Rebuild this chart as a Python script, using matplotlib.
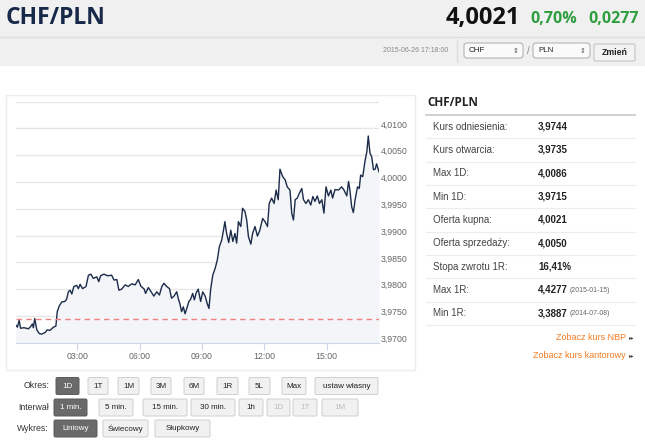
import numpy as np
import matplotlib
matplotlib.use("Agg")
import matplotlib.pyplot as plt
from matplotlib.patches import FancyBboxPatch, Rectangle
from matplotlib.transforms import ScaledTranslation

plt.rcParams['font.family'] = ['Liberation Sans', 'DejaVu Sans']

# --- data ---
minutes = [2, 7, 12, 16, 26, 39, 45, 50, 53, 57, 63, 70, 77, 87, 93, 101, 111, 118,
           122, 128, 135, 144, 149, 154, 159, 164, 170, 178, 183, 188, 195, 205, 212,
           219, 226, 236, 242, 247, 257, 267, 279, 286, 294, 300, 308, 318, 327, 337,
           347, 356, 363, 373, 377, 385, 395, 401, 409, 417, 424, 430, 438, 446, 452,
           459, 467, 472, 476, 481, 486, 491, 496, 502, 507, 513, 518, 523, 529, 536,
           542, 549, 555, 560, 565, 571, 578, 584, 590, 597, 602, 606, 611, 617, 623,
           629, 635, 640, 645, 652, 657, 664, 669, 674, 681, 686, 693, 700, 707, 715,
           722, 729, 734, 741, 748, 754, 760, 765, 773, 780, 786, 794, 799, 804, 809,
           815, 821, 828, 833, 840, 847, 854, 860, 866, 873, 879, 886, 892, 898, 905,
           912, 917, 924, 934, 943, 950, 958, 963, 967, 972, 977, 982, 989, 994, 998,
           1004, 1011, 1016, 1020, 1025, 1030, 1035, 1040, 1044, 1051]
rates = [3.9733, 3.9729, 3.9742, 3.9727, 3.9728, 3.9726, 3.9730, 3.9735, 3.9728, 3.9745,
         3.9724, 3.9717, 3.9716, 3.9719, 3.9724, 3.9723, 3.9729, 3.9731, 3.9758, 3.9769,
         3.9776, 3.9777, 3.9781, 3.9795, 3.9798, 3.9791, 3.9805, 3.9807, 3.9801, 3.9809,
         3.9801, 3.9805, 3.9826, 3.9828, 3.9820, 3.9823, 3.9814, 3.9825, 3.9828, 3.9825,
         3.9826, 3.9817, 3.9818, 3.9798, 3.9800, 3.9808, 3.9805, 3.9810, 3.9808, 3.9818,
         3.9806, 3.9800, 3.9792, 3.9803, 3.9793, 3.9787, 3.9795, 3.9789, 3.9805, 3.9811,
         3.9805, 3.9801, 3.9783, 3.9787, 3.9795, 3.9781, 3.9773, 3.9758, 3.9767, 3.9754,
         3.9764, 3.9777, 3.9781, 3.9792, 3.9780, 3.9793, 3.9800, 3.9777, 3.9795, 3.9787,
         3.9773, 3.9764, 3.9800, 3.9826, 3.9839, 3.9854, 3.9879, 3.9892, 3.9910, 3.9926,
         3.9904, 3.9887, 3.9910, 3.9889, 3.9904, 3.9886, 3.9926, 3.9917, 3.9951, 3.9945,
         3.9929, 3.9898, 3.9884, 3.9904, 3.9917, 3.9899, 3.9910, 3.9932, 3.9926, 3.9917,
         3.9960, 3.9970, 3.9960, 3.9985, 3.9967, 4.0024, 4.0010, 4.0004, 3.9991, 3.9985,
         3.9942, 3.9929, 3.9967, 3.9970, 3.9979, 3.9988, 3.9967, 3.9960, 3.9967, 3.9957,
         3.9973, 3.9964, 3.9974, 3.9960, 3.9967, 3.9942, 3.9991, 3.9974, 3.9985, 3.9970,
         3.9986, 3.9985, 3.9991, 3.9985, 3.9974, 4.0001, 3.9985, 3.9954, 3.9943, 3.9967,
         3.9991, 3.9988, 4.0013, 4.0010, 4.0041, 4.0057, 4.0086, 4.0054, 4.0047, 4.0023,
         4.0024, 4.0034, 4.0019]
reference_rate = 3.9744
y_ticks = [3.970, 3.975, 3.980, 3.985, 3.990, 3.995, 4.000, 4.005, 4.010]
y_top = 4.015
x_ticks = [180, 360, 540, 720, 900]
x_tick_labels = ["03:00", "06:00", "09:00", "12:00", "15:00"]

pair = "CHF/PLN"
last_rate = "4,0021"
change_pct = "0,70%"
change_abs = "0,0277"
timestamp = "2015-06-26 17:18:00"
base_cur = "CHF"
quote_cur = "PLN"

stats_labels = ["Kurs odniesienia:", "Kurs otwarcia:", "Max 1D:", "Min 1D:",
                "Oferta kupna:", "Oferta sprzedaży:", "Stopa zwrotu 1R:", "Max 1R:", "Min 1R:"]
stats_values = ["3,9744", "3,9735", "4,0086", "3,9715", "4,0021", "4,0050",
                "16,41%", "4,4277", "3,3887"]
stats_dates = ["", "", "", "", "", "", "", "(2015-01-15)", "(2014-07-08)"]
links = ["Zobacz kurs NBP", "Zobacz kurs kantorowy"]

okres = ["1D", "1T", "1M", "3M", "6M", "1R", "5L", "Max", "ustaw własny"]
interwal = ["1 min.", "5 min.", "15 min.", "30 min.", "1h", "1D", "1T", "1M"]
wykres = ["Liniowy", "Świecowy", "Słupkowy"]

W, H = 645, 447
fig = plt.figure(figsize=(W / 100, H / 100), dpi=100)
bg = fig.add_axes([0, 0, 1, 1])
bg.set_xlim(0, W)
bg.set_ylim(H, 0)
bg.axis('off')

# header
bg.add_patch(Rectangle((0, 0), W, 66, fc='#f0f0f0', ec='none'))
bg.plot([0, W], [36.5, 36.5], color='#dddddd', lw=1)
bg.text(6, 18, pair, fontsize=16.5, fontweight='bold', family='Open Sans',
        color='#172848', va='center')
bg.text(520, 18, last_rate, fontsize=17, fontweight='bold', family='Open Sans',
        color='#111111', va='center', ha='right')
bg.text(577, 19, change_pct, fontsize=11.5, fontweight='bold', family='Open Sans',
        color='#2e9e3f', va='center', ha='right')
bg.text(639, 19, change_abs, fontsize=11.5, fontweight='bold', family='Open Sans',
        color='#2e9e3f', va='center', ha='right')

bg.text(448, 51, timestamp, fontsize=5, color='#888888', va='center', ha='right')
bg.plot([456.5, 456.5], [40, 62], color='#dddddd', lw=1)
for x0, x1, cur in [(464, 523, base_cur), (533, 590, quote_cur)]:
    bg.add_patch(FancyBboxPatch((x0, 43), x1 - x0, 15, boxstyle="round,pad=0,rounding_size=3",
                                fc='#fafafa', ec='#b5b5b5', lw=0.8))
    bg.text(x0 + 5, 50, cur, fontsize=5.8, color='#222222', va='center')
    bg.text(x1 - 7, 50.5, '⇕', fontsize=5, color='#555555', va='center', ha='center',
            family='DejaVu Sans')
bg.text(528, 51, '/', fontsize=7, color='#888888', va='center', ha='center')
bg.add_patch(FancyBboxPatch((594, 44), 41, 17, boxstyle="round,pad=0,rounding_size=2",
                            fc='#f3f3f3', ec='#c4c4c4', lw=0.8))
bg.text(614.5, 52.5, "Zmień", fontsize=6.3, fontweight='bold', color='#222222',
        va='center', ha='center')

# chart container
bg.add_patch(Rectangle((6, 95), 409, 275, fc='white', ec='#ececec', lw=1))

# right panel
bg.text(427, 102, pair, fontsize=8.5, fontweight='bold', family='Open Sans',
        color='#222222', va='center')
bg.plot([426, 635], [115, 115], color='#c8c8c8', lw=1.2)
row_y = 126.7
for i, lab in enumerate(stats_labels):
    y = row_y + i * 23.3
    bg.text(433, y, lab, fontsize=7, color='#444444', va='center')
    bg.text(538, y, stats_values[i], fontsize=7, fontweight='bold',
            color='#222222', va='center')
    if stats_dates[i]:
        bg.text(570, y + 0.5, stats_dates[i], fontsize=5, color='#666666', va='center')
    bg.plot([426, 635], [y + 11.7, y + 11.7], color='#ececec', lw=0.8)
for j, txt in enumerate(links):
    y = 337.5 + j * 17.7
    bg.text(626, y, txt, fontsize=6.5, color='#f47b20', va='center', ha='right')
    bg.text(632, y, '▸▸', fontsize=4, color='#444444', va='center', ha='center',
            family='DejaVu Sans')

# controls
def button(x0, x1, yc, label, state='normal'):
    fc = {'active': '#6a6a6a'}.get(state, '#f1f1f1')
    ec = {'active': '#5a5a5a'}.get(state, '#cfcfcf')
    tc = {'active': 'white', 'disabled': '#bbbbbb'}.get(state, '#222222')
    bg.add_patch(FancyBboxPatch((x0, yc - 8.5), x1 - x0, 17,
                                boxstyle="round,pad=0,rounding_size=1.5",
                                fc=fc, ec=ec, lw=0.7))
    bg.text((x0 + x1) / 2, yc, label, fontsize=5.8, color=tc, va='center', ha='center')

okres_x = [(56, 79), (88, 108), (118, 139), (151, 171), (184, 204), (217, 238),
           (249, 270), (282, 306), (315, 378)]
interwal_x = [(54, 87), (99, 133), (143, 187), (191, 235), (239, 263), (267, 290),
              (293, 317), (322, 358)]
wykres_x = [(54, 97), (103, 148), (155, 210)]

bg.text(49, 386, "Okres:", fontsize=6.3, color='#333333', va='center', ha='right')
for i, (lab, (a, b)) in enumerate(zip(okres, okres_x)):
    button(a, b, 386, lab, 'active' if i == 0 else 'normal')
bg.text(49, 407.5, "Interwał", fontsize=6.3, color='#333333', va='center', ha='right')
for i, (lab, (a, b)) in enumerate(zip(interwal, interwal_x)):
    button(a, b, 407.5, lab, 'active' if i == 0 else ('disabled' if i >= 5 else 'normal'))
bg.text(49, 428.5, "Wykres:", fontsize=6.3, color='#333333', va='center', ha='right')
for i, (lab, (a, b)) in enumerate(zip(wykres, wykres_x)):
    button(a, b, 428.5, lab, 'active' if i == 0 else 'normal')

# price chart
left, right, top, bottom = 15.7, 379.0, 101.7, 342.7
ax = fig.add_axes([left / W, 1 - bottom / H, (right - left) / W, (bottom - top) / H])
ax.set_facecolor('white')
ax.fill_between(minutes, rates, y_ticks[0], color='#f3f5f8', lw=0)
ax.plot(minutes, rates, color='#1c2b4a', lw=1.0)
ax.axhline(reference_rate, color='#f47f7f', lw=1, ls=(0, (4, 3)))
ax.set_xlim(minutes[0], minutes[-1])
ax.set_ylim(y_ticks[0], y_top)
ax.set_yticks(y_ticks + [y_top])
ax.yaxis.grid(True, color='#e6e6e6', lw=1)
ax.set_axisbelow(True)
ax.tick_params(axis='y', length=0, labelleft=False, labelright=False)
for s in ['top', 'left', 'right']:
    ax.spines[s].set_visible(False)
ax.spines['bottom'].set_color('#ccd6eb')
ax.set_xticks(x_ticks)
ax.set_xticklabels(x_tick_labels)
ax.tick_params(axis='x', length=5, color='#ccd6eb', labelsize=6.3,
               labelcolor='#666666', pad=2)
lbl_tr = ax.get_yaxis_transform() + ScaledTranslation(0, 3.5 / 100, fig.dpi_scale_trans)
for v in y_ticks:
    ax.text(1.006, v, f"{v:.4f}".replace(".", ","), transform=lbl_tr, fontsize=6.3,
            color='#666666', va='center', ha='left', clip_on=False)

fig.savefig("out.png", dpi=100)
